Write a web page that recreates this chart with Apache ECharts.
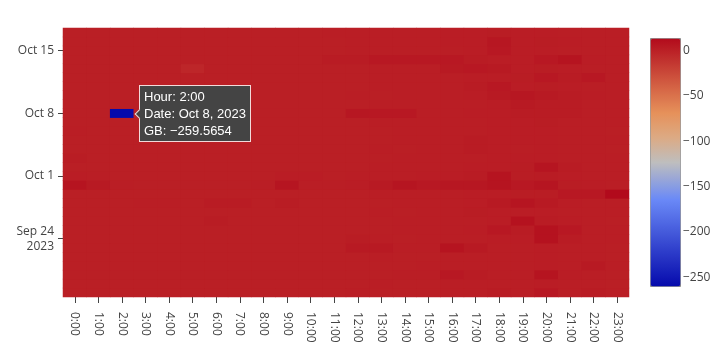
<!DOCTYPE html>
<html>
<head>
<meta charset="utf-8">
<script src="https://cdn.jsdelivr.net/npm/echarts@6/dist/echarts.min.js"></script>
<style>
html,body{margin:0;padding:0;background:#fff;}
#chart{width:724px;height:360px;}
</style>
</head>
<body>
<div id="chart"></div>
<script>
const hours = ['0:00','1:00','2:00','3:00','4:00','5:00','6:00','7:00','8:00','9:00','10:00','11:00',
  '12:00','13:00','14:00','15:00','16:00','17:00','18:00','19:00','20:00','21:00','22:00','23:00'];

const dates = ['2023-09-18','2023-09-19','2023-09-20','2023-09-21','2023-09-22','2023-09-23','2023-09-24',
  '2023-09-25','2023-09-26','2023-09-27','2023-09-28','2023-09-29','2023-09-30','2023-10-01','2023-10-02',
  '2023-10-03','2023-10-04','2023-10-05','2023-10-06','2023-10-07','2023-10-08','2023-10-09','2023-10-10',
  '2023-10-11','2023-10-12','2023-10-13','2023-10-14','2023-10-15','2023-10-16','2023-10-17'];

// GB per hour, one row per date (same order as dates)
const gbSep18 = [1.2,0.9,1.1,1.0,0.8,1.1,1.3,1.0,0.9,1.2,1.0,1.1,1.4,1.2,1.0,1.3,1.5,1.6,3.0,1.8,5.0,1.9,3.0,1.4];
const gbSep19 = [1.0,1.1,0.9,1.0,1.2,1.0,0.9,1.1,1.0,1.3,1.1,1.0,1.2,1.5,1.3,1.1,1.8,1.6,1.9,1.7,2.2,1.5,1.4,1.2];
const gbSep20 = [1.1,1.0,1.0,0.9,1.0,1.2,1.1,1.0,1.1,1.0,1.2,1.1,1.3,1.2,1.4,1.6,5.0,3.0,1.7,1.9,8.0,2.0,1.6,1.3];
const gbSep21 = [0.9,1.0,1.1,1.0,0.9,1.0,1.2,1.1,1.0,1.1,1.0,1.2,1.1,1.3,1.2,1.4,1.5,1.7,1.6,1.8,2.0,1.7,4.0,1.5];
const gbSep22 = [1.0,0.9,1.0,1.1,1.0,0.9,1.0,1.2,1.1,1.0,1.1,1.0,1.2,1.4,1.3,1.2,1.6,1.5,1.9,1.7,2.1,1.8,1.6,1.3];
const gbSep23 = [1.2,1.1,1.0,1.0,1.1,1.0,0.9,1.0,1.1,1.2,1.0,1.1,4.0,4.0,1.5,1.4,8.0,4.0,1.8,1.9,2.0,1.6,1.5,1.2];
const gbSep24 = [1.0,1.0,1.1,0.9,1.0,1.1,1.0,1.0,1.2,1.1,1.3,1.2,2.5,1.4,1.3,1.5,1.7,1.6,2.0,2.2,9.0,3.0,1.7,1.4];
const gbSep25 = [1.1,1.0,0.9,1.0,1.0,1.2,1.1,1.0,1.0,1.1,1.0,1.2,1.3,1.2,1.4,1.6,1.8,2.0,5.0,3.0,9.0,5.0,1.8,1.5];
const gbSep26 = [1.0,1.1,1.0,1.0,0.9,1.0,2.5,1.1,1.0,1.2,1.1,1.0,1.2,1.3,1.5,1.4,1.7,1.9,2.2,9.0,3.0,2.0,1.6,1.3];
const gbSep27 = [0.9,1.0,1.0,1.1,1.0,1.0,1.3,1.2,1.1,1.0,1.2,1.1,1.3,1.4,1.3,1.5,1.8,2.5,2.0,2.1,2.2,1.8,1.5,1.4];
const gbSep28 = [1.1,1.3,1.2,1.8,1.7,1.1,3.0,3.0,1.2,2.5,1.1,1.2,1.2,1.3,1.4,1.6,1.9,2.0,4.0,7.0,4.0,2.0,1.7,1.5];
const gbSep29 = [1.0,1.1,1.0,1.0,1.1,1.0,1.2,1.1,1.0,1.1,1.2,1.1,1.3,1.4,1.5,1.7,1.8,2.0,2.2,2.3,2.4,5.0,5.0,13.6];
const gbSep30 = [8.0,4.0,1.5,1.3,1.2,1.1,1.2,1.3,1.4,7.0,1.6,1.5,2.0,4.0,7.0,5.0,6.0,6.0,8.0,5.0,7.0,2.5,2.0,1.8];
const gbOct01 = [2.0,1.5,1.2,1.1,1.0,1.1,1.0,1.2,1.1,2.0,2.0,1.3,1.4,1.6,1.8,2.0,2.2,3.0,8.0,2.5,3.0,2.2,1.9,1.6];
const gbOct02 = [1.2,1.1,1.0,1.0,1.1,1.0,1.1,1.0,1.2,1.1,1.2,1.1,1.3,1.4,1.5,1.6,1.8,2.0,2.2,2.4,7.0,3.0,1.8,1.5];
const gbOct03 = [2.5,1.3,1.1,1.0,1.0,1.1,1.0,1.1,1.0,1.2,1.1,1.0,1.2,1.3,1.4,1.5,1.7,1.8,2.0,2.1,2.2,1.9,1.6,1.4];
const gbOct04 = [1.1,1.0,1.0,1.1,1.0,1.0,1.1,1.0,1.1,1.0,1.2,1.1,1.2,1.4,1.3,1.5,1.7,3.0,2.0,1.9,2.1,1.8,1.6,1.3];
const gbOct05 = [1.0,1.1,1.0,1.0,1.1,1.0,1.0,1.1,1.0,1.1,1.0,1.2,1.3,1.2,1.4,1.6,1.8,3.0,2.1,2.0,2.2,1.7,1.5,1.4];
const gbOct06 = [1.4,1.2,1.0,1.1,1.0,1.0,1.1,1.0,1.1,1.0,1.1,1.0,1.2,1.3,1.5,1.4,1.6,1.9,2.0,2.2,2.0,1.8,1.6,1.3];
const gbOct07 = [1.1,1.0,1.1,1.0,1.0,1.1,1.0,1.1,1.0,1.2,1.1,1.2,1.3,1.5,1.4,1.6,1.8,1.9,2.1,2.0,2.3,1.9,1.7,1.5];
const gbOct08 = [1.0,1.1,-259.5654,1.0,1.1,1.0,1.1,1.0,1.2,1.1,1.2,1.3,6.0,5.0,5.0,1.8,1.9,2.0,2.2,3.0,3.0,3.0,1.8,1.6];
const gbOct09 = [1.1,1.0,1.0,1.1,1.0,1.0,1.1,1.2,1.1,1.0,1.2,1.1,1.3,1.4,1.6,1.5,1.7,1.9,2.1,4.0,3.0,3.0,1.9,1.6];
const gbOct10 = [1.0,1.1,1.0,1.0,1.1,1.0,1.0,1.1,1.0,1.1,1.0,1.2,1.4,1.3,1.5,1.7,1.8,2.0,4.0,6.0,4.0,3.0,2.0,1.7];
const gbOct11 = [1.1,1.0,1.1,1.0,1.0,1.1,1.0,1.0,1.1,1.0,1.1,1.2,1.3,1.5,1.4,1.6,1.9,3.0,5.0,2.2,2.3,2.0,1.8,1.5];
const gbOct12 = [1.0,1.0,1.1,1.0,1.1,1.0,1.1,1.0,1.0,1.1,1.2,1.1,1.2,1.4,1.6,1.5,1.8,2.0,2.2,2.3,5.0,3.0,5.0,1.7];
const gbOct13 = [1.1,1.0,1.0,1.1,1.0,-3.5,1.0,1.1,1.0,1.0,1.1,1.2,1.3,1.5,1.7,1.9,4.0,5.0,4.0,2.2,2.4,2.0,1.8,1.6];
const gbOct14 = [1.0,1.1,1.0,1.0,1.1,1.0,1.1,1.0,1.2,1.1,1.3,3.0,3.0,5.0,5.0,5.0,5.0,3.0,2.2,2.0,5.0,8.0,2.0,1.7];
const gbOct15 = [1.1,1.0,1.1,1.0,1.0,1.1,1.0,1.2,1.1,1.2,1.1,1.3,1.4,1.6,1.5,1.7,1.9,2.1,5.0,2.2,2.0,1.9,1.7,1.5];
const gbOct16 = [1.0,1.1,1.0,1.1,1.0,1.0,1.2,1.1,1.0,1.1,1.3,1.2,1.5,1.4,1.6,1.8,2.0,2.2,6.0,2.1,2.3,2.0,1.8,1.6];
const gbOct17 = [1.1,1.0,1.1,1.0,1.1,1.2,1.0,1.1,1.2,1.3,1.2,1.4,1.5,1.7,1.6,1.9,2.1,2.0,2.3,2.2,2.1,1.9,1.7,1.5];

const gbRows = [gbSep18,gbSep19,gbSep20,gbSep21,gbSep22,gbSep23,gbSep24,gbSep25,gbSep26,gbSep27,gbSep28,
  gbSep29,gbSep30,gbOct01,gbOct02,gbOct03,gbOct04,gbOct05,gbOct06,gbOct07,gbOct08,gbOct09,gbOct10,gbOct11,
  gbOct12,gbOct13,gbOct14,gbOct15,gbOct16,gbOct17];

// y-axis tick labels
const yTickDates = ['2023-09-24','2023-10-01','2023-10-08','2023-10-15'];
const yTickTexts = ['Sep 24\n2023','Oct 1','Oct 8','Oct 15'];
// colorbar tick values
const colorbarTicks = [-250,-200,-150,-100,-50,0];

// plotly RdBu colorscale
const rdbuStops = [[0,[5,10,172]],[0.35,[106,137,247]],[0.5,[190,190,190]],[0.6,[220,170,132]],[0.7,[230,145,90]],[1,[178,10,28]]];
function scaleColor(t){
  for(let i=1;i<rdbuStops.length;i++){
    if(t<=rdbuStops[i][0]){
      const [t0,c0]=rdbuStops[i-1],[t1,c1]=rdbuStops[i];
      const f=(t-t0)/(t1-t0);
      return 'rgb('+c0.map((v,k)=>Math.round(v+(c1[k]-v)*f)).join(',')+')';
    }
  }
  return 'rgb(178,10,28)';
}
const colorList=[];
for(let i=0;i<=60;i++) colorList.push(scaleColor(i/60));

const data=[];
gbRows.forEach((row,yi)=>row.forEach((v,xi)=>data.push([xi,yi,v])));
const allVals=data.map(d=>d[2]);
const vmin=Math.min(...allVals), vmax=Math.max(...allVals);
const minIndex=allVals.indexOf(vmin);

const monthNames=['Jan','Feb','Mar','Apr','May','Jun','Jul','Aug','Sep','Oct','Nov','Dec'];
function fmtDate(s){const p=s.split('-');return monthNames[+p[1]-1]+' '+(+p[2])+', '+p[0];}
const minus=s=>String(s).replace('-','\u2212');

const FONT='"Open Sans", sans-serif';
const chart=echarts.init(document.getElementById('chart'),null,{renderer:'canvas'});
chart.setOption({
  animation:false,
  backgroundColor:'#fff',
  grid:[
    {left:63,top:28,width:566,height:269,show:true,backgroundColor:'rgb(186,31,38)',borderWidth:0},
    {left:650,top:38,width:30,height:248}
  ],
  xAxis:[
    {type:'category',gridIndex:0,data:hours,
     axisLine:{show:false},
     axisTick:{show:true,alignWithLabel:true,length:6,lineStyle:{color:'#444'}},
     axisLabel:{rotate:-90,interval:0,margin:15,color:'#444',fontFamily:FONT,fontSize:12},
     splitLine:{show:false}},
    {type:'value',gridIndex:1,show:false,min:0,max:1}
  ],
  yAxis:[
    {type:'category',gridIndex:0,data:dates,
     axisLine:{show:false},
     axisTick:{show:true,alignWithLabel:true,length:5,lineStyle:{color:'#444'},
       interval:(i,v)=>yTickDates.indexOf(v)>=0},
     axisLabel:{margin:9,color:'#444',fontFamily:FONT,fontSize:12,lineHeight:15,
       interval:(i,v)=>yTickDates.indexOf(v)>=0,
       formatter:v=>{const k=yTickDates.indexOf(v);return k>=0?yTickTexts[k]:'';}},
     splitLine:{show:false}},
    {type:'value',gridIndex:1,position:'right',min:vmin,max:vmax,
     axisLine:{show:false},axisTick:{show:false},splitLine:{show:false},
     axisLabel:{customValues:colorbarTicks,margin:3,color:'#444',fontFamily:FONT,fontSize:12,
       formatter:v=>minus(v)}}
  ],
  visualMap:{
    type:'continuous',min:vmin,max:vmax,dimension:2,seriesIndex:0,
    calculable:false,orient:'vertical',left:650,top:38,itemWidth:30,itemHeight:248,
    padding:0,borderColor:'#888',borderWidth:1,text:null,showLabel:false,
    inRange:{color:colorList}
  },
  tooltip:{
    trigger:'item',triggerOn:'none',alwaysShowContent:true,position:'right',
    backgroundColor:'#444',borderColor:'#f3dada',borderWidth:1,padding:[2,4],
    textStyle:{color:'#fff',fontFamily:'"Liberation Sans", Arial, sans-serif',fontSize:13,lineHeight:17},
    extraCssText:'border-radius:0;box-shadow:none;margin-left:-5px;',
    formatter:p=>'Hour: '+hours[p.data[0]]+'<br/>Date: '+fmtDate(dates[p.data[1]])+'<br/>GB: '+minus(p.data[2].toFixed(4))
  },
  series:[{
    type:'heatmap',xAxisIndex:0,yAxisIndex:0,data:data,
    itemStyle:{borderWidth:0},
    emphasis:{disabled:true},
    progressive:0
  }]
});
chart.dispatchAction({type:'showTip',seriesIndex:0,dataIndex:minIndex});
</script>
</body>
</html>
